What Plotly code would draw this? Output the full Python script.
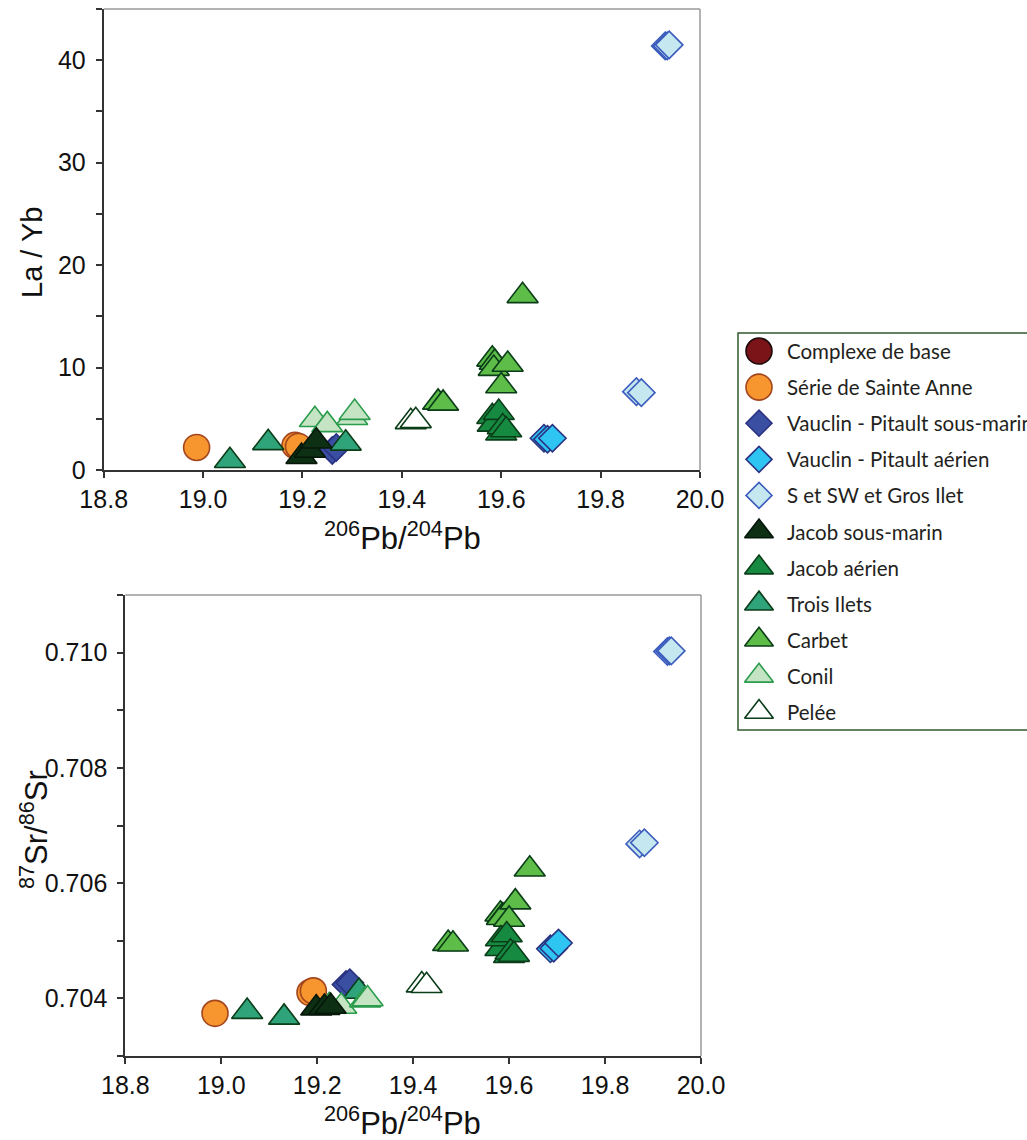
import plotly.graph_objects as go

W, H = 1027, 1140

# ---------------- data ----------------
GROUPS = ["Complexe de base", "Série de Sainte Anne", "Vauclin - Pitault sous-marin",
          "Vauclin - Pitault aérien", "S et SW et Gros Ilet", "Jacob sous-marin",
          "Jacob aérien", "Trois Ilets", "Carbet", "Conil", "Pelée"]

complexe_pb = []
complexe_layb = []
complexe_sr = []

sainte_anne_pb = [18.987, 19.185, 19.192]
sainte_anne_layb = [2.2, 2.4, 2.3]
sainte_anne_sr = [0.70374, 0.70410, 0.70413]

vauclin_sm_pb = [19.260, 19.268]
vauclin_sm_layb = [1.9, 2.2]
vauclin_sm_sr = [0.70424, 0.70427]

vauclin_aer_pb = [19.686, 19.693, 19.703]
vauclin_aer_layb = [3.1, 3.0, 3.1]
vauclin_aer_sr = [0.70486, 0.70487, 0.70496]

s_sw_pb = [19.872, 19.882, 19.930, 19.934, 19.938]
s_sw_layb = [7.65, 7.55, 41.4, 41.4, 41.5]
s_sw_sr = [0.70668, 0.70670, 0.71002, 0.71003, 0.71003]

jacob_sm_pb = [19.198, 19.215, 19.228]
jacob_sm_layb = [1.3, 1.9, 2.8]
jacob_sm_sr = [0.70383, 0.70384, 0.70386]

jacob_aer_pb = [19.582, 19.583, 19.595, 19.600, 19.603, 19.610]
jacob_aer_layb = [5.2, 4.45, 5.6, 3.6, 4.2, 3.9]
jacob_aer_sr = [0.70486, 0.70503, 0.70510, 0.70474, 0.70480, 0.70476]

trois_ilets_pb = [19.054, 19.131, 19.287]
trois_ilets_layb = [0.9, 2.65, 2.6]
trois_ilets_sr = [0.70377, 0.70367, 0.70412]

carbet_pb = [19.473, 19.483, 19.582, 19.587, 19.585, 19.613, 19.600, 19.643]
carbet_layb = [6.6, 6.5, 10.8, 10.5, 9.9, 10.3, 8.2, 17.0]
carbet_sr = [0.70495, 0.70494, 0.70546, 0.70543, 0.70540, 0.70567, 0.70537, 0.70624]

conil_pb = [19.225, 19.250, 19.300, 19.305]
conil_layb = [4.9, 4.4, 5.1, 5.6]
conil_sr = [0.70387, 0.70386, 0.70397, 0.70399]

pelee_pb = [19.418, 19.428]
pelee_layb = [4.7, 4.8]
pelee_sr = [0.70423, 0.70422]

X_TICKS = [18.8, 19.0, 19.2, 19.4, 19.6, 19.8, 20.0]
LAYB_TICKS = [0, 10, 20, 30, 40]
SR_TICKS = [0.704, 0.706, 0.708, 0.710]

# ---------------- styles ----------------
STYLE = {
    "Complexe de base": dict(symbol="circle", size=26, color="#7a1418", line="#1a0a0a"),
    "Série de Sainte Anne": dict(symbol="circle", size=26, color="#f7962f", line="#a3461e"),
    "Vauclin - Pitault sous-marin": dict(symbol="diamond", size=21, color="#3a4fa2", line="#2b3283"),
    "Vauclin - Pitault aérien": dict(symbol="diamond", size=21, color="#2ec5f2", line="#2b3283"),
    "S et SW et Gros Ilet": dict(symbol="diamond", size=21, color="#c5e7ef", line="#3b5cbd"),
    "Jacob sous-marin": dict(symbol="triangle-up", size=27, color="#0d3015", line="#06170a"),
    "Jacob aérien": dict(symbol="triangle-up", size=27, color="#178a42", line="#0b3d19"),
    "Trois Ilets": dict(symbol="triangle-up", size=27, color="#2fa37a", line="#0b3d19"),
    "Carbet": dict(symbol="triangle-up", size=27, color="#5dbd48", line="#0b3d19"),
    "Conil": dict(symbol="triangle-up", size=27, color="#c5e4c4", line="#2a9c4c"),
    "Pelée": dict(symbol="triangle-up", size=27, color="#ffffff", line="#0b3d19"),
}

DATA = {
    "Complexe de base": (complexe_pb, complexe_layb, complexe_sr),
    "Série de Sainte Anne": (sainte_anne_pb, sainte_anne_layb, sainte_anne_sr),
    "Vauclin - Pitault sous-marin": (vauclin_sm_pb, vauclin_sm_layb, vauclin_sm_sr),
    "Vauclin - Pitault aérien": (vauclin_aer_pb, vauclin_aer_layb, vauclin_aer_sr),
    "S et SW et Gros Ilet": (s_sw_pb, s_sw_layb, s_sw_sr),
    "Trois Ilets": (trois_ilets_pb, trois_ilets_layb, trois_ilets_sr),
    "Conil": (conil_pb, conil_layb, conil_sr),
    "Pelée": (pelee_pb, pelee_layb, pelee_sr),
    "Carbet": (carbet_pb, carbet_layb, carbet_sr),
    "Jacob aérien": (jacob_aer_pb, jacob_aer_layb, jacob_aer_sr),
    "Jacob sous-marin": (jacob_sm_pb, jacob_sm_layb, jacob_sm_sr),
}

fig = go.Figure()

def mk(st):
    return dict(symbol=st["symbol"], size=st["size"], color=st["color"],
                line=dict(color=st["line"], width=1.6))

for name, (pb, layb, sr) in DATA.items():
    st = STYLE[name]
    fig.add_trace(go.Scatter(x=pb, y=layb, mode="markers", marker=mk(st),
                             xaxis="x", yaxis="y", showlegend=False, cliponaxis=False))
    fig.add_trace(go.Scatter(x=pb, y=sr, mode="markers", marker=mk(st),
                             xaxis="x2", yaxis="y2", showlegend=False, cliponaxis=False))

# custom legend (own axis, one row per category)
for i, name in enumerate(GROUPS):
    st = STYLE[name]
    m = mk(st)
    if st["symbol"] == "triangle-up":
        m["size"] = 25
    elif st["symbol"] == "diamond":
        m["size"] = 20
    fig.add_trace(go.Scatter(x=[21], y=[i], mode="markers", marker=m,
                             xaxis="x3", yaxis="y3", showlegend=False, cliponaxis=False))

FONT_TICK = dict(family="Liberation Sans, Arial, sans-serif", size=25, color="#111111")
AX = dict(showgrid=False, zeroline=False, showline=True, linecolor="#333333", linewidth=2,
          ticks="outside", ticklen=6, tickwidth=1.5, tickcolor="#333333",
          tickfont=FONT_TICK, mirror=False, automargin=False)

def px_x(p):
    return p / W

def px_y(p):
    return 1 - p / H

fig.update_layout(
    width=W, height=H, margin=dict(l=0, r=0, t=0, b=0, autoexpand=False),
    paper_bgcolor="white", plot_bgcolor="white", showlegend=False,
    xaxis=dict(AX, domain=[px_x(103.7), px_x(700)], range=[18.8, 20.0],
               tickvals=X_TICKS, ticktext=[f"{v:.1f}" for v in X_TICKS], anchor="y"),
    yaxis=dict(AX, domain=[px_y(470), px_y(9)], range=[0, 45], tickvals=LAYB_TICKS,
               ticklabelstandoff=5,
               minor=dict(dtick=5, ticks="outside", ticklen=6, tickwidth=1.5, tickcolor="#333333"),
               anchor="x"),
    xaxis2=dict(AX, domain=[px_x(125.3), px_x(701)], range=[18.8, 20.0],
                tickvals=X_TICKS, ticktext=[f"{v:.1f}" for v in X_TICKS], anchor="y2"),
    yaxis2=dict(AX, domain=[px_y(1056), px_y(595)], range=[0.703, 0.711], tickvals=SR_TICKS,
                ticktext=[f"{v:.3f}" for v in SR_TICKS], ticklabelstandoff=5,
                minor=dict(dtick=0.001, ticks="outside", ticklen=6, tickwidth=1.5, tickcolor="#333333"),
                anchor="x2"),
    xaxis3=dict(domain=[px_x(738), 1.0], range=[0, 289], visible=False, anchor="y3",
                automargin=False),
    yaxis3=dict(domain=[px_y(730), px_y(333)], range=[len(GROUPS) - 0.5, -0.5], visible=False,
                anchor="x3", automargin=False),
)

# top / right frame lines (lighter grey)
for xr, yr in (("x", "y"), ("x2", "y2")):
    fig.add_shape(type="line", xref=f"{xr} domain", yref=f"{yr} domain", x0=0, x1=1, y0=1, y1=1,
                  line=dict(color="#9a9a9a", width=1.5))
    fig.add_shape(type="line", xref=f"{xr} domain", yref=f"{yr} domain", x0=1, x1=1, y0=0, y1=1,
                  line=dict(color="#9a9a9a", width=1.5))

# legend box
fig.add_shape(type="rect", xref="paper", yref="paper", x0=px_x(738), x1=1.02,
              y0=px_y(730), y1=px_y(333), line=dict(color="#2f5a2f", width=1.5), layer="below")

for i, name in enumerate(GROUPS):
    fig.add_annotation(x=47, y=i, xref="x3", yref="y3", text=name, showarrow=False,
                       xanchor="left", yanchor="middle",
                       font=dict(family="Lato, Open Sans, sans-serif", size=20.5, color="#231f20"))

TITLE_FONT = dict(family="Liberation Sans, Arial, sans-serif", size=31, color="#111111")
fig.add_annotation(x=px_x(402), y=px_y(536), xref="paper", yref="paper", showarrow=False,
                   text="<sup>206</sup>Pb/<sup>204</sup>Pb", font=TITLE_FONT,
                   xanchor="center", yanchor="middle")
fig.add_annotation(x=px_x(402), y=px_y(1121), xref="paper", yref="paper", showarrow=False,
                   text="<sup>206</sup>Pb/<sup>204</sup>Pb", font=TITLE_FONT,
                   xanchor="center", yanchor="middle")
fig.add_annotation(x=px_x(32), y=px_y(253), xref="paper", yref="paper", showarrow=False,
                   text="La / Yb", textangle=-90,
                   font=dict(TITLE_FONT, size=29),
                   xanchor="center", yanchor="middle")
fig.add_annotation(x=px_x(34), y=px_y(830), xref="paper", yref="paper", showarrow=False,
                   text="<sup>87</sup>Sr/<sup>86</sup>Sr", textangle=-90, font=TITLE_FONT,
                   xanchor="center", yanchor="middle")

fig.write_html("out.html", config={"displayModeBar": False},
               post_script="document.body.style.margin='0';document.body.style.overflow='hidden';")
